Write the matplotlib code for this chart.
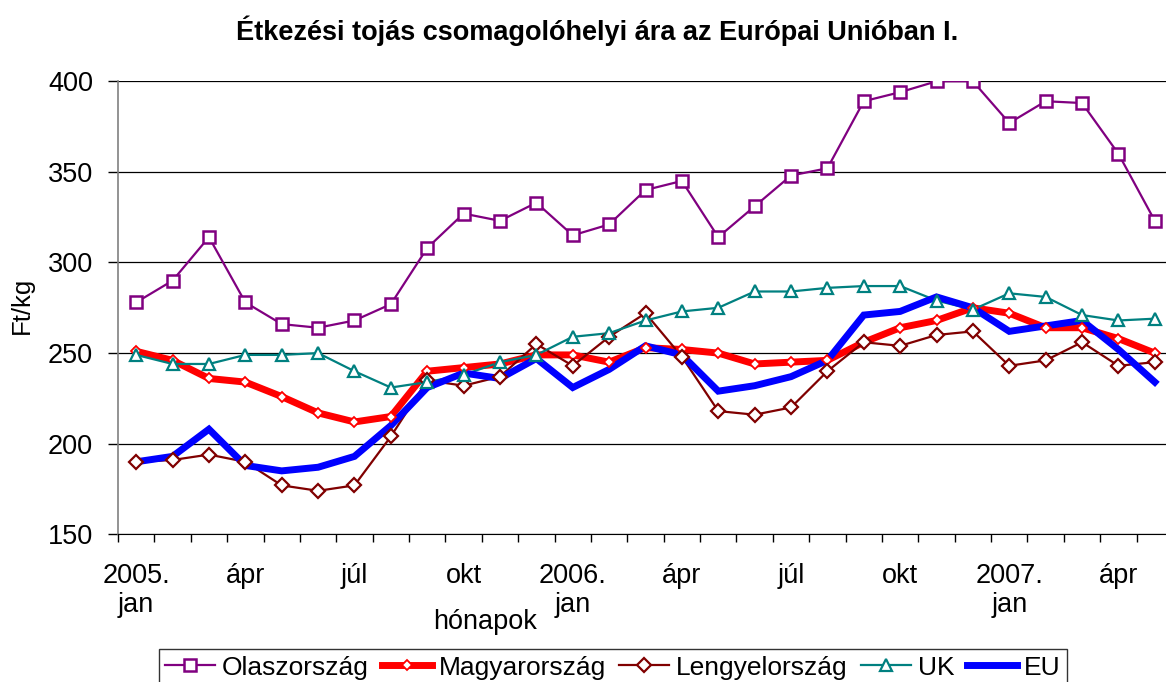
import matplotlib
matplotlib.use("Agg")
import matplotlib.pyplot as plt
from matplotlib.lines import Line2D
import numpy as np

plt.rcParams['font.family'] = ['Liberation Sans', 'DejaVu Sans']

# havi árak, Ft/kg (2005. jan - 2007. máj)
olasz = [278, 290, 314, 278, 266, 264, 268, 277, 308, 327, 323, 333, 315, 321, 340,
         345, 314, 331, 348, 352, 389, 394, 400, 400, 377, 389, 388, 360, 323]
magyar = [251, 246, 236, 234, 226, 217, 212, 215, 240, 242, 244, 249, 249, 245, 253,
          252, 250, 244, 245, 246, 256, 264, 268, 275, 272, 264, 264, 258, 250]
lengyel = [190, 191, 194, 190, 177, 174, 177, 204, 235, 232, 237, 255, 243, 259, 272,
           248, 218, 216, 220, 240, 256, 254, 260, 262, 243, 246, 256, 243, 245]
uk = [249, 244, 244, 249, 249, 250, 240, 231, 234, 238, 245, 249, 259, 261, 268,
      273, 275, 284, 284, 286, 287, 287, 279, 274, 283, 281, 271, 268, 269]
eu = [190, 193, 208, 188, 185, 187, 193, 210, 231, 239, 236, 247, 231, 241, 254,
      249, 229, 232, 237, 246, 271, 273, 281, 275, 262, 265, 268, 252, 234]

tick_labels = ['2005.\njan', 'ápr', 'júl', 'okt', '2006.\njan', 'ápr', 'júl', 'okt',
               '2007.\njan', 'ápr']

x = np.arange(len(olasz))

fig = plt.figure(figsize=(11.66, 6.82), dpi=100)
ax = fig.add_axes([118 / 1166, 1 - 534.3 / 682, 1055 / 1166, 453 / 682])

# series: (values, label, color, linewidth, marker, markersize, mew)
series = [
    (olasz, 'Olaszország', '#800080', 1.6, 's', 9, 1.8),
    (magyar, 'Magyarország', '#FF0000', 5.0, 'D', 5, 1.3),
    (lengyel, 'Lengyelország', '#800000', 1.6, 'D', 7.5, 1.6),
    (uk, 'UK', '#008080', 1.6, '^', 9, 1.6),
    (eu, 'EU', '#0000FF', 5.0, None, 0, 0),
]

handles = []
for vals, label, col, lw, mk, ms, mew in series:
    # lines first, markers on top of every line
    ax.plot(x, vals, color=col, lw=lw, zorder=2, solid_joinstyle='miter')
    if mk:
        ax.plot(x, vals, ls='none', marker=mk, ms=ms, mfc='white', mec=col,
                mew=mew, zorder=3)
    handles.append(Line2D([], [], color=col, lw=lw, marker=mk, ms=ms,
                          mfc='white', mec=col, mew=mew, label=label))

ax.set_xlim(-0.5, len(olasz) - 0.5)
ax.set_ylim(150, 400)
ax.set_yticks(range(150, 401, 50))
ax.yaxis.grid(True, color='black', lw=0.9)
ax.set_axisbelow(True)

ax.set_xticks(x[::3])
ax.set_xticklabels(tick_labels, linespacing=1.15)
ax.set_xticks(np.arange(-0.5, len(olasz), 1), minor=True)
ax.tick_params(axis='x', which='major', length=0, pad=21, labelsize=19.5)
ax.tick_params(axis='x', which='minor', length=6, width=1, direction='out')
ax.tick_params(axis='y', length=7, width=1, pad=11, labelsize=19.5)

for s in ['top', 'right']:
    ax.spines[s].set_visible(False)
ax.spines['left'].set_color('#808080')
ax.spines['left'].set_linewidth(1.2)
ax.spines['bottom'].set_color('black')

fig.text(597 / 1166, 1 - 31 / 682, 'Étkezési tojás csomagolóhelyi ára az Európai Unióban I.',
         ha='center', va='center', fontsize=19.5, fontweight='bold')
fig.text(22 / 1166, 1 - 305 / 682, 'Ft/kg', rotation=90, ha='center', va='center', fontsize=18.5)
fig.text(485 / 1166, 1 - 622 / 682, 'hónapok', ha='center', va='center', fontsize=19.5)

fig.legend(handles=handles, loc='upper center', bbox_to_anchor=(613 / 1166, 1 - 649 / 682),
           ncol=5, fontsize=19, frameon=True, fancybox=False, edgecolor='black',
           handlelength=1.9, handletextpad=0.25, columnspacing=0.5, borderpad=0.25,
           borderaxespad=0)

fig.savefig('out.png', dpi=100)
